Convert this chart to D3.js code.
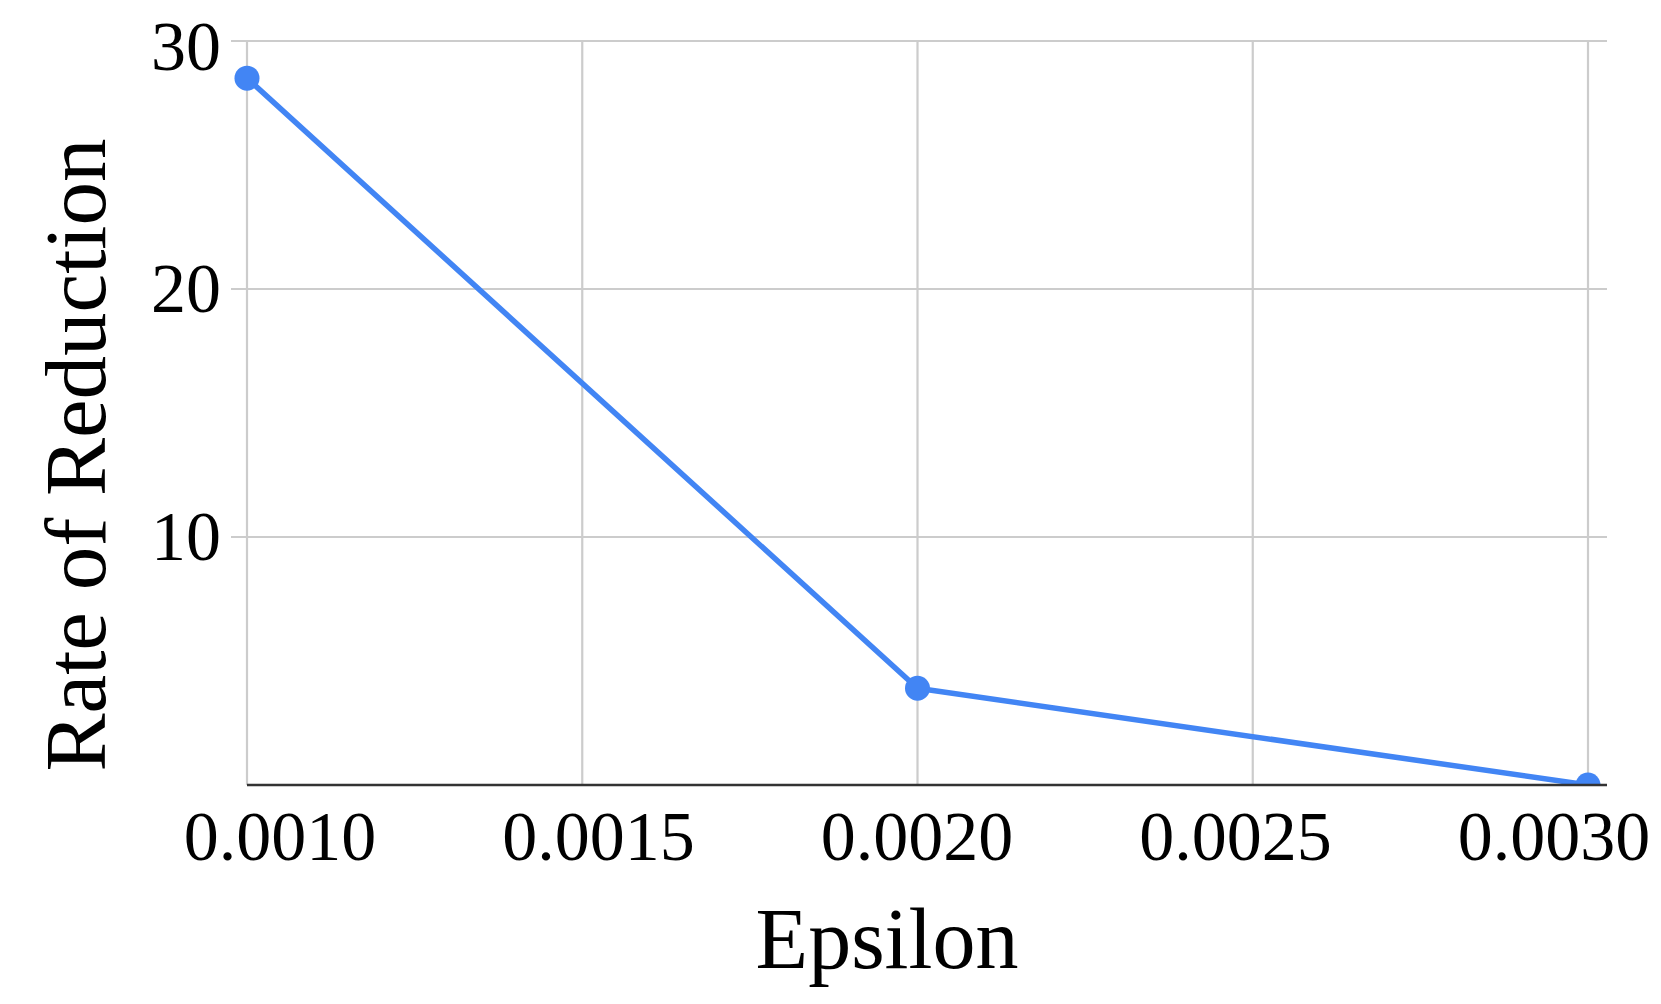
<!DOCTYPE html>
<html>
<head>
<meta charset="utf-8">
<script src="https://cdn.jsdelivr.net/npm/d3@7"></script>
<style>
  html, body { margin: 0; padding: 0; background: #fff; }
  svg { display: block; }
  text { font-family: "Liberation Serif", "Times New Roman", serif; fill: #000; }
</style>
</head>
<body>
<svg id="chart" width="1661" height="1004"></svg>
<script>
// ---- data ----
const epsilon = [0.0010, 0.0020, 0.0030];
const reduction = [28.5, 3.9, 0.0];
const xTicks = [0.0010, 0.0015, 0.0020, 0.0025, 0.0030];
const xTickLabels = ["0.0010", "0.0015", "0.0020", "0.0025", "0.0030"];
const yTicks = [0, 10, 20, 30];
const yTickLabels = ["", "10", "20", "30"];
const xTitle = "Epsilon";
const yTitle = "Rate of Reduction";

// ---- layout ----
const svg = d3.select("#chart");
const plotLeft = 247, plotRight = 1588, axisRight = 1607, gridLeft = 231;
const plotTop = 41, plotBottom = 785;

const x = d3.scaleLinear().domain([0.0010, 0.0030]).range([plotLeft, plotRight]);
const xLabelPos = d3.scaleLinear().domain([0.0010, 0.0030]).range([280, 1554]);
const y = d3.scaleLinear().domain([0, 30]).range([plotBottom, plotTop]);

// horizontal gridlines
svg.append("g").selectAll("line")
  .data(yTicks.filter(d => d !== 0))
  .join("line")
  .attr("x1", gridLeft).attr("x2", axisRight)
  .attr("y1", d => y(d)).attr("y2", d => y(d))
  .attr("stroke", "#cccccc").attr("stroke-width", 2.2);

// vertical gridlines
svg.append("g").selectAll("line")
  .data(xTicks)
  .join("line")
  .attr("x1", d => x(d)).attr("x2", d => x(d))
  .attr("y1", plotTop).attr("y2", plotBottom)
  .attr("stroke", "#cccccc").attr("stroke-width", 2.2);

// clip
svg.append("clipPath").attr("id", "clip")
  .append("rect").attr("x", 0).attr("y", 0).attr("width", 1661).attr("height", plotBottom);

const data = epsilon.map((e, i) => ({ e, v: reduction[i] }));
const line = d3.line().x(d => x(d.e)).y(d => y(d.v));

const g = svg.append("g").attr("clip-path", "url(#clip)");
g.append("path").datum(data)
  .attr("d", line)
  .attr("fill", "none")
  .attr("stroke", "#4285F4")
  .attr("stroke-width", 5.5)
  .attr("stroke-linejoin", "round");
g.selectAll("circle").data(data).join("circle")
  .attr("cx", d => x(d.e)).attr("cy", d => y(d.v))
  .attr("r", 12.5)
  .attr("fill", "#4285F4");

// baseline axis
svg.append("line")
  .attr("x1", plotLeft).attr("x2", axisRight)
  .attr("y1", y(0)).attr("y2", y(0))
  .attr("stroke", "#333333").attr("stroke-width", 2.5);

// y tick labels
svg.append("g").selectAll("text")
  .data(yTicks.map((t, i) => ({ t, label: yTickLabels[i] })).filter(d => d.label))
  .join("text")
  .attr("x", 221)
  .attr("y", d => y(d.t) + (d.t === 30 ? 29 : 23))
  .attr("text-anchor", "end")
  .attr("font-size", 70)
  .text(d => d.label);

// x tick labels
svg.append("g").selectAll("text")
  .data(xTicks.map((t, i) => ({ t, label: xTickLabels[i] })))
  .join("text")
  .attr("x", d => xLabelPos(d.t))
  .attr("y", 860)
  .attr("text-anchor", "middle")
  .attr("font-size", 70)
  .text(d => d.label);

// axis titles
svg.append("text")
  .attr("x", 887).attr("y", 968)
  .attr("text-anchor", "middle")
  .attr("font-size", 86)
  .text(xTitle);

svg.append("text")
  .attr("transform", "translate(105,455) rotate(-90)")
  .attr("text-anchor", "middle")
  .attr("font-size", 87)
  .text(yTitle);
</script>
</body>
</html>
